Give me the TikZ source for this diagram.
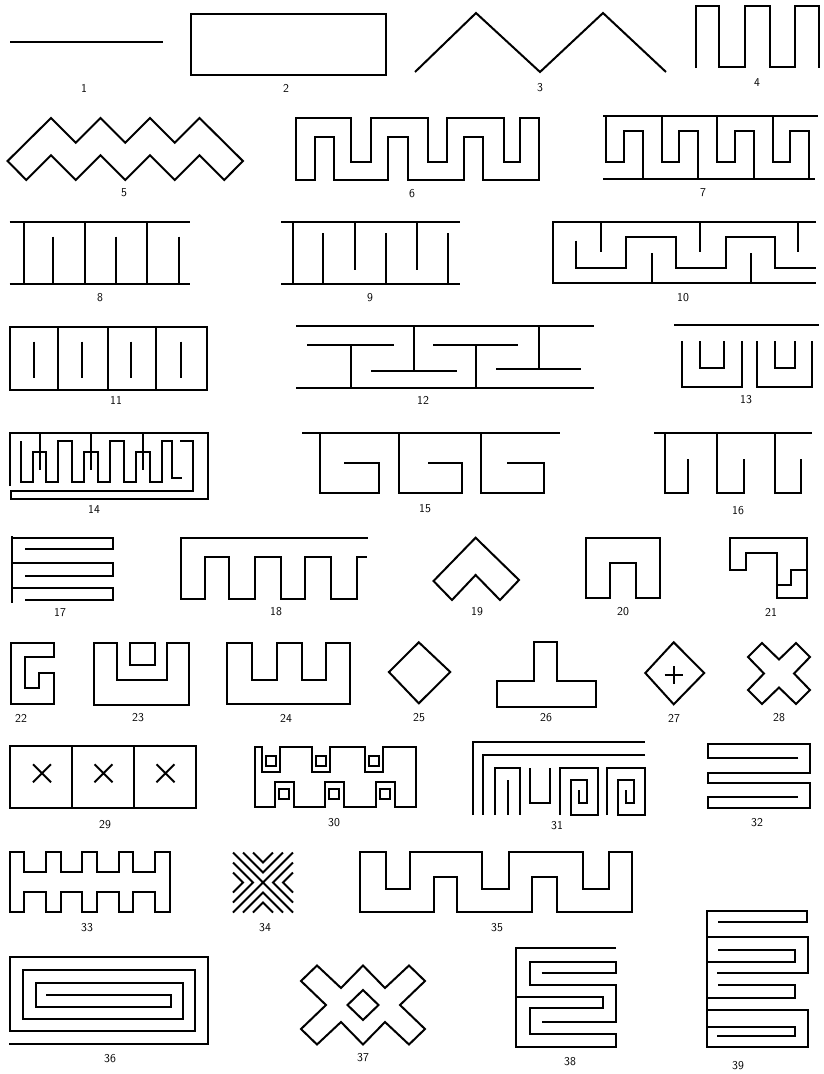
\documentclass[tikz,border=0pt]{standalone}
\usepackage{tikz}
\begin{document}
\begin{tikzpicture}[x=1pt,y=-1pt,
  pat/.style={line width=2pt,line join=miter},
  num/.style={font=\sffamily\fontsize{12}{12}\selectfont,inner sep=0pt}]
  \useasboundingbox (0,0) rectangle (824,1074);
  % ---------- row 1 : 1--4 ---------------------------------------
  \draw[pat] (10,42) -- (163,42);
  \draw[pat] (191,14) rectangle (386,75);
  \draw[pat] (415,72) -- (476,13) -- (540,72) -- (603,13) -- (666,72);
  \draw[pat] (696,68) -- (696,6) -- (719,6) -- (719,67) -- (745,67) -- (745,6)
      -- (770,6) -- (770,67) -- (795,67) -- (795,6) -- (819,6) -- (819,68);
  \node[num] (n1) at (84,88) {1};
  \node[num] (n2) at (286,88) {2};
  \node[num] (n3) at (540,88) {3};
  \node[num] (n4) at (757,83) {4};
  % ---------- row 2 : 5--7 ---------------------------------------
  \draw[pat] (7.6,161) -- (51,118) -- (75.75,142.75) -- (100.5,118) -- (125.25,142.75)
      -- (150,118) -- (174.75,142.75) -- (199.5,118) -- (242.9,161)
      -- (224.25,180) -- (199.5,155.25) -- (174.75,180) -- (150,155.25) -- (125.25,180)
      -- (100.5,155.25) -- (75.75,180) -- (51,155.25) -- (26.25,180) -- cycle;
  \draw[pat] (296,118) -- (351,118) -- (351,162) -- (371,162) -- (371,118) -- (428,118)
      -- (428,162) -- (447,162) -- (447,118) -- (504,118) -- (504,162) -- (520,162)
      -- (520,118) -- (539,118) -- (539,180) -- (483,180) -- (483,137) -- (464,137)
      -- (464,180) -- (408,180) -- (408,137) -- (388,137) -- (388,180) -- (334,180)
      -- (334,137) -- (315,137) -- (315,180) -- (296,180) -- cycle;
  \draw[pat] (603,116) -- (818,116);
  \draw[pat] (603,179) -- (815,179);
  \foreach \x in {606,661.6,717.2,772.8}
    \draw[pat] (\x,116) -- (\x,162) -- ({\x+17.5},162) -- ({\x+17.5},131)
        -- ({\x+36.5},131) -- ({\x+36.5},179);
  \node[num] (n5) at (124,193) {5};
  \node[num] (n6) at (412,194) {6};
  \node[num] (n7) at (703,193) {7};
  % ---------- row 3 : 8--10 --------------------------------------
  \draw[pat] (9.5,222.3) -- (190,222.3);
  \draw[pat] (9.5,284.3) -- (190,284.3);
  \foreach \x in {23.6,85,147} \draw[pat] (\x,222.3) -- (\x,284.3);
  \foreach \x in {52.5,115.6,178.7} \draw[pat] (\x,236.7) -- (\x,284.3);
  \draw[pat] (281,222) -- (460,222);
  \draw[pat] (281,284) -- (460,284);
  \draw[pat] (292.7,222) -- (292.7,284);
  \foreach \x in {323,386,448} \draw[pat] (\x,233.3) -- (\x,284);
  \foreach \x in {354.7,416.7} \draw[pat] (\x,222) -- (\x,270);
  \draw[pat] (816,221.5) -- (552.7,221.5) -- (552.7,283.3) -- (816,283.3);
  \draw[pat] (576,240.7) -- (576,268.3) -- (626,268.3) -- (626,237.3) -- (676,237.3)
      -- (676,268.3) -- (726,268.3) -- (726,237.3) -- (775,237.3) -- (775,268.3) -- (816,268.3);
  \foreach \x in {601,700,798.3} \draw[pat] (\x,221.5) -- (\x,252);
  \foreach \x in {651.7,750.7} \draw[pat] (\x,283.3) -- (\x,253.3);
  \node[num] (n8) at (100,298) {8};
  \node[num] (n9) at (370,298) {9};
  \node[num] (n10) at (683,298) {10};
  % ---------- row 4 : 11--13 -------------------------------------
  \draw[pat] (9.5,326.7) rectangle (206.5,390);
  \foreach \x in {57.8,107.7,156} \draw[pat] (\x,326.7) -- (\x,390);
  \foreach \x in {34,81.5,131.4,181.3} \draw[pat] (\x,341.7) -- (\x,378.3);
  \draw[pat] (296,325.5) -- (594,325.5);
  \draw[pat] (296,388.3) -- (594,388.3);
  \draw[pat] (307,345) -- (394,345);
  \draw[pat] (371,370.5) -- (457,370.5);
  \draw[pat] (433,345) -- (518,345);
  \draw[pat] (496,368.7) -- (580.5,368.7);
  \draw[pat] (351,345) -- (351,388.3);
  \draw[pat] (414,325.5) -- (414,370.5);
  \draw[pat] (476.3,345) -- (476.3,388.3);
  \draw[pat] (538.7,325.5) -- (538.7,368.7);
  \draw[pat] (674,325) -- (819,325);
  \draw[pat] (682,341) -- (682,387) -- (742,387) -- (742,341);
  \draw[pat] (700,341) -- (700,368) -- (724,368) -- (724,341);
  \draw[pat] (757,341) -- (757,387) -- (812,387) -- (812,341);
  \draw[pat] (775,341) -- (775,368) -- (795,368) -- (795,341);
  \node[num] (n11) at (116,400) {11};
  \node[num] (n12) at (423,400) {12};
  \node[num] (n13) at (746,400) {13};
  % ---------- row 5 : 14--16 -------------------------------------
  \draw[pat] (10,486) -- (10,433.3) -- (208.3,433.3) -- (208.3,499) -- (11,499)
      -- (11,491) -- (193.3,491) -- (193.3,441) -- (180,441);
  \draw[pat] (21,441) -- (21,482) -- (33,482) -- (33,452) -- (46,452) -- (46,482)
      -- (58,482) -- (58,441) -- (72,441) -- (72,482) -- (84,482) -- (84,452)
      -- (98,452) -- (98,482) -- (110,482) -- (110,441) -- (124,441) -- (124,482)
      -- (136,482) -- (136,452) -- (150,452) -- (150,482) -- (162,482) -- (162,441)
      -- (172,441) -- (172,478) -- (182,478);
  \foreach \x in {40,91,143} \draw[pat] (\x,433.3) -- (\x,470);
  \draw[pat] (302,432.7) -- (559.6,432.7);
  \foreach \x/\y/\z in {319.5/379.4/344.2,399.4/462.4/428.3,480.8/543.9/507}
    \draw[pat] (\x,432.7) -- (\x,492.7) -- (\y,492.7) -- (\y,463.3) -- (\z,463.3);
  \draw[pat] (654,432.7) -- (812,432.7);
  \foreach \x/\y in {664.7/688.4,717.3/743.6,775/801.4}
    \draw[pat] (\x,432.7) -- (\x,492.7) -- (\y,492.7) -- (\y,459.3);
  \node[num] (n14) at (94,509) {14};
  \node[num] (n15) at (425,509) {15};
  \node[num] (n16) at (738,511) {16};
  % ---------- row 6 : 17--21 -------------------------------------
  \draw[pat] (11.6,536) -- (11.6,603.3);
  \foreach \y/\z in {537.7/549.3,563.3/575.7,588.3/600}
    \draw[pat] (11.6,\y) -- (113,\y) -- (113,\z) -- (25.2,\z);
  \draw[pat] (367.8,537.7) -- (181.3,537.7) -- (181.3,599.3) -- (205,599.3) -- (205,556.7)
      -- (228.6,556.7) -- (228.6,599.3) -- (254.9,599.3) -- (254.9,556.7) -- (281,556.7)
      -- (281,599.3) -- (304.8,599.3) -- (304.8,556.7) -- (331,556.7) -- (331,599.3)
      -- (357.3,599.3) -- (357.3,556.7) -- (366.8,556.7);
  \draw[pat] (475.6,537.7) -- (519,580) -- (500,600) -- (475.6,575) -- (452,600)
      -- (433.5,581) -- cycle;
  \draw[pat] (586,537.7) -- (659.5,537.7) -- (659.5,598.3) -- (635.8,598.3) -- (635.8,563.3)
      -- (609.6,563.3) -- (609.6,598.3) -- (586,598.3) -- cycle;
  \draw[pat] (730,538) -- (807,538) -- (807,598) -- (777,598) -- (777,553) -- (746,553)
      -- (746,570) -- (730,570) -- cycle;
  \draw[pat] (777,585) -- (791,585) -- (791,570) -- (807,570);
  \node[num] (n17) at (60,612) {17};
  \node[num] (n18) at (276,612) {18};
  \node[num] (n19) at (477,612) {19};
  \node[num] (n20) at (623,612) {20};
  \node[num] (n21) at (771,612) {21};
  % ---------- row 7 : 22--28 -------------------------------------
  \draw[pat] (10.5,643.3) -- (54,643.3) -- (54,656.7) -- (25.2,656.7) -- (25.2,688.3)
      -- (39.4,688.3) -- (39.4,673.3) -- (54,673.3) -- (54,704.3) -- (10.5,704.3) -- cycle;
  \draw[pat] (93.5,643.3) -- (93.5,705) -- (189.2,705) -- (189.2,643.3) -- (167,643.3)
      -- (167,680) -- (116.7,680) -- (116.7,643.3) -- cycle;
  \draw[pat] (130.3,643.3) rectangle (155,665);
  \draw[pat] (227,643.3) -- (227,704.3) -- (349.5,704.3) -- (349.5,643.3) -- (325.8,643.3)
      -- (325.8,680) -- (302,680) -- (302,643.3) -- (277,643.3) -- (277,680) -- (252.2,680)
      -- (252.2,643.3) -- cycle;
  \draw[pat] (418.8,642.3) -- (450.3,672) -- (418.8,703.3) -- (388.9,672) -- cycle;
  \draw[pat] (534.4,641.7) -- (557,641.7) -- (557,680.7) -- (596.4,680.7) -- (596.4,706.7)
      -- (496.6,706.7) -- (496.6,680.7) -- (534.4,680.7) -- cycle;
  \draw[pat] (673.7,642.3) -- (704.2,673) -- (673.7,704.3) -- (645.3,673) -- cycle;
  \draw[pat] (664.7,675) -- (682.7,675) (673.7,666) -- (673.7,684);
  \begin{scope}[shift={(779,673.5)}]
    \draw[pat] (-17,-30.5) -- (0,-14) -- (17,-30.5) -- (31,-16.5) -- (15,0) -- (31,16.5)
        -- (17,30.5) -- (0,14) -- (-17,30.5) -- (-31,16.5) -- (-15,0) -- (-31,-16.5) -- cycle;
  \end{scope}
  \node[num] (n22) at (21,718) {22};
  \node[num] (n23) at (138,718) {23};
  \node[num] (n24) at (286,718) {24};
  \node[num] (n25) at (419,718) {25};
  \node[num] (n26) at (546,718) {26};
  \node[num] (n27) at (674,718) {27};
  \node[num] (n28) at (779,718) {28};
  % ---------- row 8 : 29--32 -------------------------------------
  \draw[pat] (9.5,746) rectangle (196,808.3);
  \foreach \x in {72,134} \draw[pat] (\x,746) -- (\x,808.3);
  \foreach \x in {42,103.5,165.5}
    \draw[pat] ({\x-9},764.3) -- ({\x+9},782.3) ({\x-9},782.3) -- ({\x+9},764.3);
  \draw[pat] (255,746.7) -- (262,746.7) -- (262,772) -- (280,772) -- (280,746.7)
      -- (312,746.7) -- (312,772) -- (330,772) -- (330,746.7) -- (364.5,746.7)
      -- (364.5,772) -- (383,772) -- (383,746.7) -- (415.8,746.7) -- (415.8,806.7)
      -- (394.5,806.7) -- (394.5,782) -- (376,782) -- (376,806.7) -- (343.5,806.7)
      -- (343.5,782) -- (325,782) -- (325,806.7) -- (293.5,806.7) -- (293.5,782)
      -- (275,782) -- (275,806.7) -- (255,806.7) -- cycle;
  \foreach \x in {266,316,368.7} \draw[pat] (\x,756) rectangle ({\x+10},766);
  \foreach \x in {279.2,329.2,380.2} \draw[pat] (\x,789) rectangle ({\x+10},799);
  \draw[pat] (473.3,815) -- (473.3,741.7) -- (645,741.7);
  \draw[pat] (645,755) -- (483.3,755) -- (483.3,815);
  \draw[pat] (495,815) -- (495,768.3) -- (520,768.3) -- (520,815);
  \draw[pat] (507.5,780) -- (507.5,815);
  \draw[pat] (530,768.3) -- (530,803) -- (550,803) -- (550,768.3);
  \foreach \x in {560,607}
    \draw[pat] (\x,815) -- (\x,768.3) -- ({\x+38},768.3) -- ({\x+38},815) -- ({\x+11},815)
        -- ({\x+11},780) -- ({\x+27},780) -- ({\x+27},803) -- ({\x+19},803) -- ({\x+19},790);
  \draw[pat] (798.3,758.3) -- (708.3,758.3) -- (708.3,744) -- (810,744) -- (810,773.3)
      -- (708.3,773.3) -- (708.3,783.3) -- (810,783.3) -- (810,808.3) -- (708.3,808.3)
      -- (708.3,796.7) -- (798.3,796.7);
  \node[num] (n29) at (105,825) {29};
  \node[num] (n30) at (334,823) {30};
  \node[num] (n31) at (557,826) {31};
  \node[num] (n32) at (757,823) {32};
  % ---------- row 9 : 33--35 -------------------------------------
  \draw[pat] (9.5,852.3) \foreach \x in {9.5,45.9,82.3,118.7} {
      -- ({\x+14.6},852.3) -- ({\x+14.6},871.7) -- ({\x+36.4},871.7) -- ({\x+36.4},852.3)}
      -- (169.7,852.3) -- (169.7,911.7) \foreach \x in {155.1,118.7,82.3,45.9} {
      -- (\x,911.7) -- (\x,891.7) -- ({\x-21.8},891.7) -- ({\x-21.8},911.7)}
      -- (9.5,911.7) -- cycle;
  \begin{scope}[shift={(263,882.5)}]
    \draw[pat] (-30,-30) -- (30,30) (30,-30) -- (-30,30);
    \foreach \a in {10,20} {
      \draw[pat] (-30+\a,-30) -- (0,-\a) -- (30-\a,-30);
      \draw[pat] (-30+\a,30) -- (0,\a) -- (30-\a,30);
      \draw[pat] (-30,-30+\a) -- (-\a,0) -- (-30,30-\a);
      \draw[pat] (30,-30+\a) -- (\a,0) -- (30,30-\a);
    }
  \end{scope}
  \draw[pat] (360,852.3) -- (360,911.7) -- (433.5,911.7) -- (433.5,877.3) -- (457.2,877.3)
      -- (457.2,911.7) -- (531.8,911.7) -- (531.8,877.3) -- (557,877.3) -- (557,911.7)
      -- (631.6,911.7) -- (631.6,852.3) -- (608.5,852.3) -- (608.5,889) -- (583.3,889)
      -- (583.3,852.3) -- (508.7,852.3) -- (508.7,889) -- (482.4,889) -- (482.4,852.3)
      -- (409.9,852.3) -- (409.9,889) -- (386.2,889) -- (386.2,852.3) -- cycle;
  \node[num] (n33) at (87,928) {33};
  \node[num] (n34) at (265,928) {34};
  \node[num] (n35) at (497,928) {35};
  % ---------- row 10 : 36--39 ------------------------------------
  \draw[pat] (9.3,1044) -- (208.3,1044) -- (208.3,957.3) -- (10,957.3) -- (10,1030.7)
      -- (195,1030.7) -- (195,970) -- (23.3,970) -- (23.3,1019.3) -- (182.7,1019.3)
      -- (182.7,982.7) -- (36,982.7) -- (36,1006.7) -- (170.7,1006.7) -- (170.7,995) -- (46,995);
  \begin{scope}[shift={(363,1005)}]
    \draw[pat] (-46,-39.5) -- (-22,-17) -- (0,-39.5) -- (22,-17) -- (46,-39.5) -- (62,-24)
        -- (37,0) -- (62,24) -- (46,39.5) -- (22,17) -- (0,39.5) -- (-22,17) -- (-46,39.5)
        -- (-62,24) -- (-37,0) -- (-62,-24) -- cycle;
    \draw[pat] (0,-15) -- (15.5,0) -- (0,15) -- (-15.5,0) -- cycle;
  \end{scope}
  \draw[pat] (616,948.3) -- (516,948.3) -- (516,1046.7) -- (616,1046.7) -- (616,1034)
      -- (530,1034) -- (530,1008.3) -- (603.3,1008.3) -- (603.3,996.7) -- (516,996.7);
  \draw[pat] (541.7,972.7) -- (616,972.7) -- (616,961.7) -- (530,961.7) -- (530,985)
      -- (616,985) -- (616,1021.7) -- (541.7,1021.7);
  \draw[pat] (718,921.7) -- (806.6,921.7) -- (806.6,910.7) -- (706.7,910.7) -- (706.7,1046.7)
      -- (808.3,1046.7) -- (808.3,1010) -- (706.7,1010);
  \draw[pat] (706.7,936.7) -- (808.3,936.7) -- (808.3,973.3) -- (717,973.3);
  \draw[pat] (718,950) -- (795,950) -- (795,961.7) -- (706.7,961.7);
  \draw[pat] (718,985) -- (795,985) -- (795,998.3) -- (706.7,998.3);
  \draw[pat] (706.7,1026.7) -- (795,1026.7) -- (795,1036) -- (717,1036);
  \node[num] (n36) at (110,1059) {36};
  \node[num] (n37) at (363,1058) {37};
  \node[num] (n38) at (570,1062) {38};
  \node[num] (n39) at (738,1066) {39};
\end{tikzpicture}
\end{document}
